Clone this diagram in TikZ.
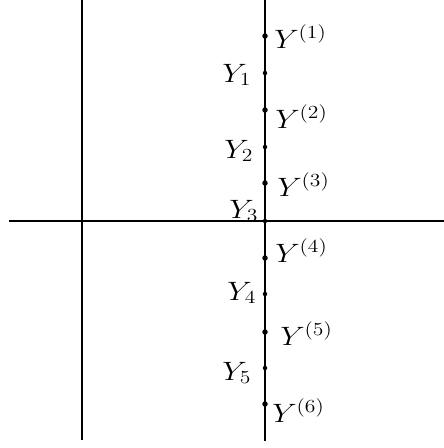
\documentclass[tikz,border=0pt]{standalone}
\begin{document}
\begin{tikzpicture}[x=1pt,y=-1pt,
  axis/.style={line width=2pt},
  bigdot/.style={circle,fill=black,inner sep=0pt,minimum size=5.5pt},
  smalldot/.style={circle,fill=black,inner sep=0pt,minimum size=4.5pt},
  lab/.style={anchor=base west,inner sep=0pt,xscale=1.5,yscale=1.28,transform shape,
    font=\fontsize{20.74}{25}\selectfont}]
\useasboundingbox (0,0) rectangle (444,448);
% axes
\coordinate (ltop) at (82,0);
\coordinate (lbot) at (82,440);
\coordinate (rtop) at (265,0);
\coordinate (rbot) at (265,441);
\coordinate (hleft) at (9,221);
\coordinate (hright) at (444,221);
\draw[axis] (ltop) -- (lbot);
\draw[axis] (rtop) -- (rbot);
\draw[axis] (hleft) -- (hright);
% points
\node[bigdot] (p1) at (265,36) {};
\node[smalldot] (q1) at (265,73) {};
\node[bigdot] (p2) at (265,110) {};
\node[smalldot] (q2) at (265,147) {};
\node[bigdot] (p3) at (265,183) {};
\node[smalldot] (q3) at (265,221) {};
\node[bigdot] (p4) at (265,258) {};
\node[smalldot] (q4) at (265,294) {};
\node[bigdot] (p5) at (265,332) {};
\node[smalldot] (q5) at (265,368) {};
\node[bigdot] (p6) at (265,404) {};
% labels
\node[lab] (L1) at (274,48) {$Y^{(1)}$};
\node[lab] (L2) at (275,128) {$Y^{(2)}$};
\node[lab] (L3) at (277,196) {$Y^{(3)}$};
\node[lab] (L4) at (275,262) {$Y^{(4)}$};
\node[lab] (L5) at (280,345) {$Y^{(5)}$};
\node[lab] (L6) at (272,422) {$Y^{(6)}$};
\node[lab] (M1) at (222,82) {$Y_1$};
\node[lab] (M2) at (224,158) {$Y_2$};
\begin{scope}
\clip (0,0) rectangle (444,220);
\node[lab] (M3) at (229,218) {$Y_3$};
\end{scope}
\node[lab] (M4) at (227,300) {$Y_4$};
\node[lab] (M5) at (222,380) {$Y_5$};
\end{tikzpicture}
\end{document}
